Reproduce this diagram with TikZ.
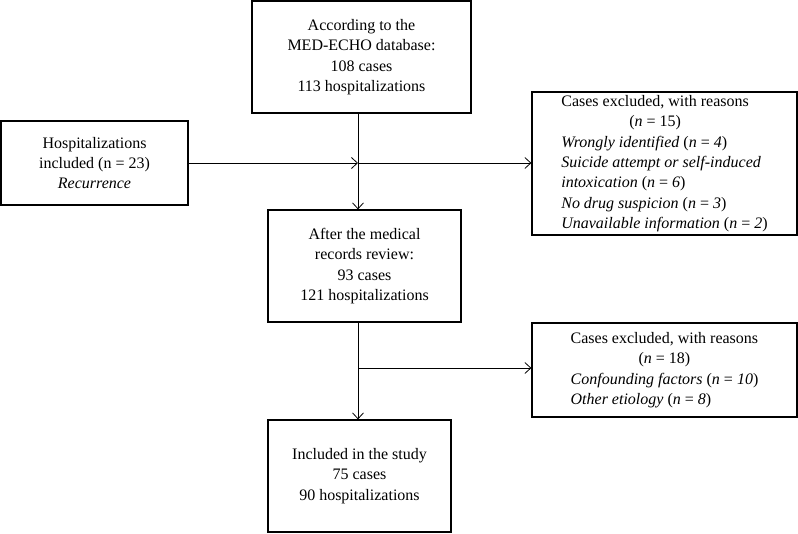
\documentclass[tikz,border=0pt]{standalone}
\usepackage{fontspec}
\setmainfont{Liberation Serif}
\usetikzlibrary{arrows.meta}
\newlength\hdrwidth
\newcommand\hdrtext{Cases excluded, with reasons}
\newcommand\hdrline[1]{\hdrtext\\\makebox[\hdrwidth]{#1}}
\begin{document}
\begin{tikzpicture}[x=1pt,y=-1pt,
  box/.style={draw,line width=1.2pt,inner sep=0pt,align=center,font=\fontsize{16}{20.3}\selectfont},
  sidebox/.style={draw,line width=1.2pt,inner sep=0pt,font=\fontsize{16}{20.3}\selectfont},
  conn/.style={line width=0.8pt,-{Straight Barb[length=6pt,width=11pt]}}]
\useasboundingbox (0,0) rectangle (798,533);
\node[box,minimum width=219pt,minimum height=112pt] (db) at (361.5,57)
  {According to the\\MED-ECHO database:\\108 cases\\113 hospitalizations};
\node[box,minimum width=187pt,minimum height=84pt] (rec) at (94.5,163)
  {Hospitalizations\\included (n = 23)\\\textit{Recurrence}};
\node[sidebox,minimum width=265pt,minimum height=143pt] (ex1) at (664.5,163.5)
  {\settowidth\hdrwidth{\hdrtext}\begin{tabular}{@{}l@{}}
   \hdrline{(\textit{n} = 15)}\\
   \textit{Wrongly identified} (\textit{n} = \textit{4})\\
   \textit{Suicide attempt or self-induced}\\
   \textit{intoxication} (\textit{n} = \textit{6})\\
   \textit{No drug suspicion} (\textit{n} = \textit{3})\\
   \textit{Unavailable information} (\textit{n} = \textit{2})
   \end{tabular}};
\node[box,minimum width=193pt,minimum height=112pt] (mid) at (364.5,266)
  {After the medical\\records review:\\93 cases\\121 hospitalizations};
\node[sidebox,minimum width=265pt,minimum height=94pt] (ex2) at (664.5,370)
  {\settowidth\hdrwidth{\hdrtext}\begin{tabular}{@{}l@{}}
   \hdrline{(\textit{n} = 18)}\\
   \textit{Confounding factors} (\textit{n} = \textit{10})\\
   \textit{Other etiology} (\textit{n} = \textit{8})
   \end{tabular}};
\node[box,minimum width=183pt,minimum height=112pt] (fin) at (359.5,476)
  {Included in the study\\75 cases\\90 hospitalizations};
\coordinate (j1) at (358,163);
\coordinate (j2) at (358,368);
\draw[conn] (j1 |- db.south) -- (j1 |- mid.north);
\draw[conn] (rec.east) -- (j1);
\draw[conn] (j1) -- (j1 -| ex1.west);
\draw[conn] (j2 |- mid.south) -- (j2 |- fin.north);
\draw[conn] (j2) -- (j2 -| ex2.west);
\end{tikzpicture}
\end{document}
